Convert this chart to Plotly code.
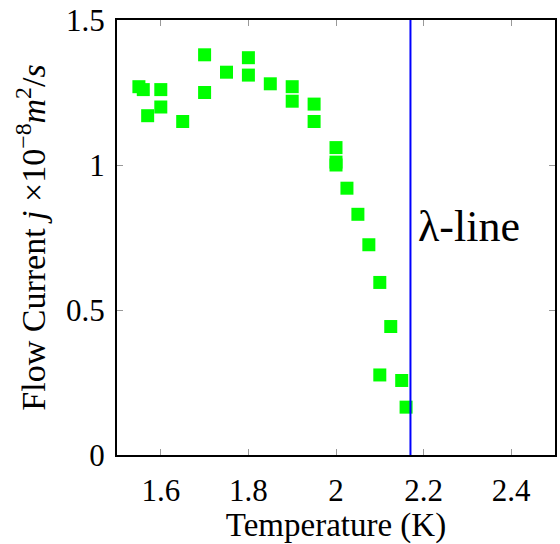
import plotly.graph_objects as go

temperature = [1.55, 1.56, 1.57, 1.60, 1.60, 1.65, 1.70, 1.70, 1.75, 1.80, 1.80, 1.85,
               1.90, 1.90, 1.95, 1.95, 2.00, 2.00, 2.00, 2.025, 2.05, 2.075, 2.10,
               2.125, 2.10, 2.15, 2.16]
flow_current = [1.27, 1.26, 1.17, 1.26, 1.20, 1.15, 1.38, 1.25, 1.32, 1.37, 1.31, 1.28,
                1.27, 1.22, 1.21, 1.15, 1.06, 1.01, 1.00, 0.92, 0.83, 0.725, 0.595,
                0.443, 0.276, 0.257, 0.165]
lambda_T = 2.17
lambda_y = [0, 1.5]

x_ticks = [1.6, 1.8, 2.0, 2.2, 2.4]
x_labels = ["1.6", "1.8", "2", "2.2", "2.4"]
y_ticks = [0, 0.5, 1.0, 1.5]
y_labels = ["0", "0.5", "1", "1.5"]

font = "Liberation Serif"

fig = go.Figure()
fig.add_trace(go.Scatter(x=temperature, y=flow_current, mode="markers",
                         marker=dict(symbol="square", size=13, color="#00ff00",
                                     line=dict(width=0)),
                         showlegend=False, cliponaxis=False))
fig.add_trace(go.Scatter(x=[lambda_T, lambda_T], y=lambda_y, mode="lines",
                         line=dict(color="#0000ff", width=2), showlegend=False))
fig.add_annotation(x=lambda_T, y=0.787, text="λ-line", showarrow=False,
                   xanchor="left", xshift=6, font=dict(family=font, size=44, color="black"))

axis_common = dict(showline=True, linecolor="black", linewidth=2, mirror="ticks",
                   ticks="inside", tickcolor="#999999", ticklen=6, tickwidth=1,
                   showgrid=False, zeroline=False, ticklabeloverflow="allow",
                   tickfont=dict(family=font, size=31, color="black"))

fig.update_xaxes(range=[1.5, 2.5], tickvals=x_ticks, ticktext=x_labels,
                 ticklabelstandoff=7,
                 title=dict(text="Temperature (K)", font=dict(family=font, size=33, color="black"),
                            standoff=8),
                 **axis_common)
fig.update_yaxes(range=[0, 1.5], tickvals=y_ticks, ticktext=y_labels,
                 ticklabelstandoff=4,
                 title=dict(text="Flow Current <i>j</i> ×10<sup>−8</sup><i>m</i><sup>2</sup>/<i>s</i>",
                            font=dict(family=font, size=34, color="black"), standoff=10),
                 **axis_common)

fig.update_layout(width=560, height=544, paper_bgcolor="white", plot_bgcolor="white",
                  margin=dict(l=117, r=3, t=15, b=89),
                  font=dict(family=font, color="black"))

fig.write_html("out.html")
